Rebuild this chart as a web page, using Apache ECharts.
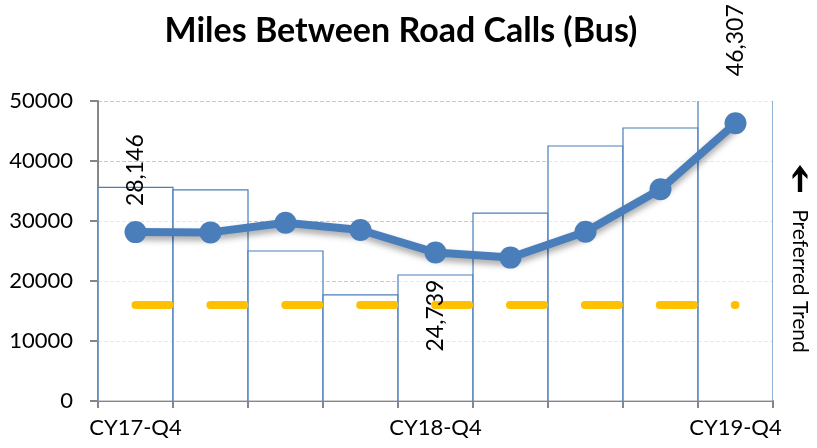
<!DOCTYPE html>
<html>
<head>
<meta charset="utf-8">
<script src="https://cdn.jsdelivr.net/npm/echarts@6/dist/echarts.min.js"></script>
<style>
  html, body { margin: 0; padding: 0; background: #fff; }
  #chart { width: 817px; height: 448px; }
</style>
</head>
<body>
<div id="chart"></div>
<script>
// Quarterly miles between road calls for the bus fleet
const quarters = ['CY17-Q4', 'CY18-Q1', 'CY18-Q2', 'CY18-Q3', 'CY18-Q4', 'CY19-Q1', 'CY19-Q2', 'CY19-Q3', 'CY19-Q4'];
const quarterlyMiles = [35600, 35200, 25000, 17700, 21000, 31300, 42500, 45500, 53000];
const rollingAverage = [28146, 28100, 29700, 28500, 24739, 23900, 28200, 35300, 46307];
const goal = [16000, 16000, 16000, 16000, 16000, 16000, 16000, 16000, 16000];
const yTicks = { min: 0, max: 50000, interval: 10000 };

// points whose value is printed, with where the label sits
const labelledPoints = { 0: { position: 'top', distance: 15 }, 4: { position: 'bottom', distance: 16 }, 8: { position: 'top', distance: 36 } };

const FONT = 'Lato, "Open Sans", sans-serif';
const blue = '#4A7EBB';

const lineData = rollingAverage.map((v, i) => {
  const cfg = labelledPoints[i];
  if (!cfg) return v;
  return {
    value: v,
    label: {
      show: true,
      position: cfg.position,
      distance: cfg.distance,
      rotate: 90,
      align: cfg.position === 'top' ? 'left' : 'right',
      verticalAlign: 'middle',
      formatter: p => p.value.toLocaleString('en-US'),
      color: '#000',
      fontFamily: FONT,
      fontSize: 23
    }
  };
});

// Open-topped outline for each bar: left side, top, right side.
// Bars taller than the axis lose their top edge to the grid clip.
function renderBarOutline(params, api) {
  const cat = api.value(0);
  const val = api.value(1);
  const base = api.coord([cat, 0]);
  const top = api.coord([cat, val]);
  const w = api.size([1, 0])[0];
  const x0 = base[0] - w / 2, x1 = base[0] + w / 2;
  return {
    type: 'group',
    children: [
      {
        type: 'rect',
        shape: { x: x0, y: top[1], width: w, height: base[1] - top[1] },
        style: { fill: 'rgba(255,255,255,0.6)' }
      },
      {
        type: 'polyline',
        shape: { points: [[x0, base[1]], [x0, top[1]], [x1, top[1]], [x1, base[1]]] },
        style: { stroke: blue, lineWidth: 1.2, fill: null }
      }
    ]
  };
}

const chart = echarts.init(document.getElementById('chart'), null, { renderer: 'canvas' });
chart.setOption({
  animation: false,
  backgroundColor: '#fff',
  title: {
    text: 'Miles Between Road Calls (Bus)',
    left: 396, top: 9, textAlign: 'center',
    textStyle: { fontFamily: FONT, fontWeight: 'bold', fontSize: 34, color: '#000' }
  },
  grid: { left: 98, right: 44, top: 101, bottom: 47 },
  xAxis: {
    type: 'category',
    data: quarters,
    boundaryGap: true,
    axisLine: { lineStyle: { color: '#868686', width: 2 } },
    axisTick: { show: true, interval: 0, length: 7, lineStyle: { color: '#868686', width: 2 } },
    axisLabel: { interval: 3, color: '#000', fontFamily: FONT, fontSize: 22, margin: 16 }
  },
  yAxis: {
    type: 'value',
    min: yTicks.min, max: yTicks.max, interval: yTicks.interval,
    axisLine: { show: true, lineStyle: { color: '#868686', width: 2 } },
    axisTick: { show: true, length: 8, lineStyle: { color: '#868686', width: 2 } },
    axisLabel: { color: '#000', fontFamily: FONT, fontSize: 22, margin: 25, formatter: v => String(v) },
    splitLine: { lineStyle: { color: '#C8C8C8', type: [4, 2], width: 1 } }
  },
  series: [
    {
      type: 'custom',
      data: quarterlyMiles.map((v, i) => [i, v]),
      renderItem: renderBarOutline,
      clip: true,
      encode: { x: 0, y: 1 },
      z: 1
    },
    {
      type: 'line',
      data: goal,
      symbol: 'none',
      lineStyle: { color: '#FFC000', width: 8, type: [34, 40.9], cap: 'round' },
      z: 2
    },
    {
      type: 'line',
      data: lineData,
      symbol: 'circle',
      symbolSize: 22,
      itemStyle: { color: blue },
      lineStyle: {
        color: blue, width: 8,
        shadowColor: 'rgba(0,0,0,0.35)', shadowBlur: 6, shadowOffsetY: 4
      },
      z: 3
    }
  ],
  graphic: [
    {
      type: 'text',
      x: 800, y: 281,
      rotation: -Math.PI / 2,
      style: {
        text: 'Preferred Trend',
        fontFamily: FONT, fontSize: 21, fill: '#000',
        align: 'center', verticalAlign: 'middle'
      }
    },
    {
      // bold up arrow above the caption
      type: 'polygon',
      shape: { points: [[800, 165], [807.5, 175], [807.5, 179], [802.2, 174], [802.2, 192], [797.8, 192], [797.8, 174], [792.5, 179], [792.5, 175]] },
      style: { fill: '#000' }
    }
  ]
});
</script>
</body>
</html>
